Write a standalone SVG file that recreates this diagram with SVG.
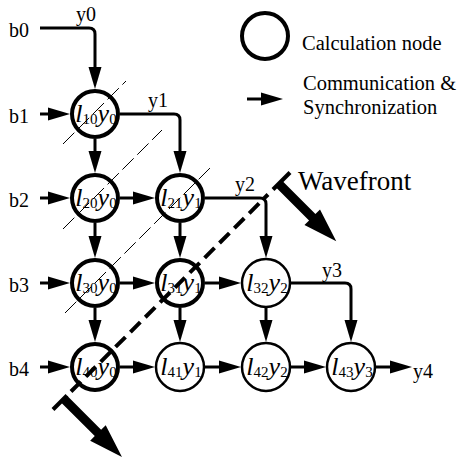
<svg xmlns="http://www.w3.org/2000/svg" width="462" height="458" viewBox="0 0 462 458">
<defs>
<style>
.conn{fill:none;stroke:#000;stroke-width:3;stroke-linejoin:round}
.node circle{fill:#fff;stroke:#000;stroke-width:4}
.node.thin circle{stroke-width:2.5}
.lbl{font-family:"Liberation Serif","Times New Roman",serif;font-size:20px;fill:#000}
.leg{font-family:"Liberation Serif","Times New Roman",serif;font-size:20.5px;fill:#000}
.nl{font-family:"Liberation Serif","Times New Roman",serif;font-size:26px;font-style:italic;fill:#000;text-anchor:middle}
.sub{font-style:normal;font-size:15px}
.hatch{stroke:#000;stroke-width:1;stroke-dasharray:16 5;fill:none}
.wf{stroke:#000;stroke-width:4;fill:none}
</style>
<marker id="ah" markerUnits="userSpaceOnUse" markerWidth="24" markerHeight="14" viewBox="0 0 24 14" refX="12" refY="7" orient="auto">
<path d="M0,0.5 L22,7 L0,13.5 Z" fill="#000"/>
</marker>
</defs>
<rect width="462" height="458" fill="#fff"/>

<g id="connectors" class="conn" marker-end="url(#ah)">
<path d="M40,28 H89 Q95,28 95,34 V79"/>
<path d="M40,114 H60"/>
<path d="M40,198 H60"/>
<path d="M40,283 H60"/>
<path d="M40,367 H60"/>
<path d="M120,114 H174 Q180,114 180,120 V163"/>
<path d="M95,139 V163"/>
<path d="M120,198 H145"/>
<path d="M95,223 V248"/>
<path d="M180,223 V248"/>
<path d="M205,198 H260 Q266,198 266,204 V248"/>
<path d="M120,283 H145"/>
<path d="M205,283 H231"/>
<path d="M95,308 V332"/>
<path d="M180,308 V332"/>
<path d="M266,308 V332"/>
<path d="M291,283 H345 Q351,283 351,289 V332"/>
<path d="M120,367 H145"/>
<path d="M205,367 H231"/>
<path d="M291,367 H316"/>
<path d="M376,367 H402"/>
<path d="M247,99 H273"/>
</g>

<g id="edge-labels" class="lbl">
<text x="9" y="37">b0</text>
<text x="9" y="123">b1</text>
<text x="9" y="207">b2</text>
<text x="9" y="292">b3</text>
<text x="9" y="376">b4</text>
<text x="86" y="21" text-anchor="middle">y0</text>
<text x="158" y="107" text-anchor="middle">y1</text>
<text x="245" y="191" text-anchor="middle">y2</text>
<text x="332" y="277" text-anchor="middle">y3</text>
<text x="413" y="378">y4</text>
</g>

<g id="n10" class="node"><circle cx="95" cy="114" r="23"/><text class="nl" x="96" y="122">l<tspan class="sub" dy="2">10</tspan><tspan dy="-2">y</tspan><tspan class="sub" dy="2">0</tspan></text></g>
<g id="n20" class="node"><circle cx="95" cy="198" r="23"/><text class="nl" x="96" y="206">l<tspan class="sub" dy="2">20</tspan><tspan dy="-2">y</tspan><tspan class="sub" dy="2">0</tspan></text></g>
<g id="n21" class="node"><circle cx="180" cy="198" r="23"/><text class="nl" x="181" y="206">l<tspan class="sub" dy="2">21</tspan><tspan dy="-2">y</tspan><tspan class="sub" dy="2">1</tspan></text></g>
<g id="n30" class="node"><circle cx="95" cy="283" r="23"/><text class="nl" x="96" y="291">l<tspan class="sub" dy="2">30</tspan><tspan dy="-2">y</tspan><tspan class="sub" dy="2">0</tspan></text></g>
<g id="n31" class="node"><circle cx="180" cy="283" r="23"/><text class="nl" x="181" y="291">l<tspan class="sub" dy="2">31</tspan><tspan dy="-2">y</tspan><tspan class="sub" dy="2">1</tspan></text></g>
<g id="n32" class="node thin"><circle cx="266" cy="283" r="24"/><text class="nl" x="267" y="291">l<tspan class="sub" dy="2">32</tspan><tspan dy="-2">y</tspan><tspan class="sub" dy="2">2</tspan></text></g>
<g id="n40" class="node"><circle cx="95" cy="367" r="23"/><text class="nl" x="96" y="375">l<tspan class="sub" dy="2">40</tspan><tspan dy="-2">y</tspan><tspan class="sub" dy="2">0</tspan></text></g>
<g id="n41" class="node thin"><circle cx="180" cy="367" r="24"/><text class="nl" x="181" y="375">l<tspan class="sub" dy="2">41</tspan><tspan dy="-2">y</tspan><tspan class="sub" dy="2">1</tspan></text></g>
<g id="n42" class="node thin"><circle cx="266" cy="367" r="24"/><text class="nl" x="267" y="375">l<tspan class="sub" dy="2">42</tspan><tspan dy="-2">y</tspan><tspan class="sub" dy="2">2</tspan></text></g>
<g id="n43" class="node thin"><circle cx="351" cy="367" r="24"/><text class="nl" x="352" y="375">l<tspan class="sub" dy="2">43</tspan><tspan dy="-2">y</tspan><tspan class="sub" dy="2">3</tspan></text></g>

<g id="hatching" class="hatch">
<line x1="63" y1="144" x2="126" y2="81"/>
<line x1="63" y1="229" x2="162" y2="130"/>
<line x1="65" y1="313" x2="212" y2="166"/>
</g>

<g id="wavefront">
<line class="wf" x1="53" y1="409.5" x2="67" y2="395.5"/>
<line class="wf" x1="71" y1="391.5" x2="268" y2="194.5" stroke-dasharray="14 7"/>
<line class="wf" x1="273" y1="189.5" x2="290" y2="172.5"/>
<polygon transform="translate(279,184) rotate(45)" points="0,-4.5 47,-4.5 47,-11 81,0 47,11 47,4.5 0,4.5" fill="#000"/>
<polygon transform="translate(64,399) rotate(45)" points="0,-4.5 48,-4.5 48,-11 82,0 48,11 48,4.5 0,4.5" fill="#000"/>
<text x="298" y="190" font-family="Liberation Serif, Times New Roman, serif" font-size="27">Wavefront</text>
</g>

<g id="legend">
<circle cx="265" cy="36" r="23" fill="#fff" stroke="#000" stroke-width="4"/>
<text class="leg" x="302" y="50">Calculation node</text>
<text class="leg" x="303" y="90">Communication &amp;</text>
<text class="leg" x="303" y="114">Synchronization</text>
</g>
</svg>
